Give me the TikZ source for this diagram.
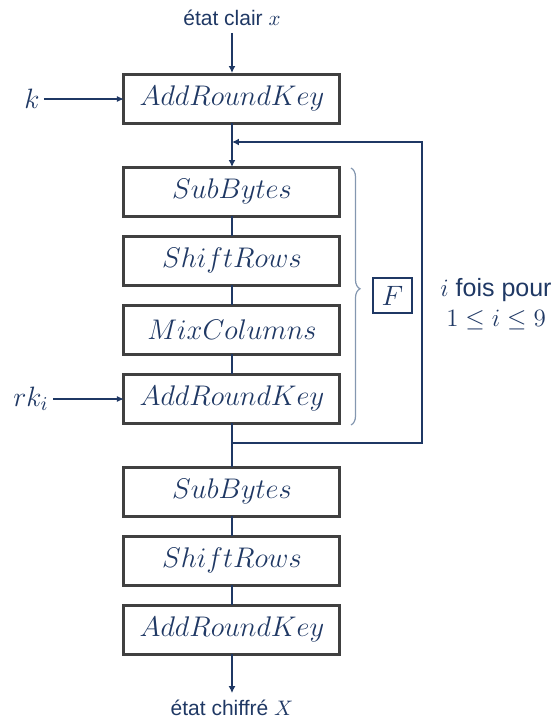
\RequirePackage{fix-cm}
\documentclass[tikz,border=0pt]{standalone}
\usepackage{amsmath, amssymb}
\usepackage{fontspec}
\setsansfont{Liberation Sans}
\usepackage{tikz}
\usetikzlibrary{arrows.meta}
\usetikzlibrary{positioning}
\usetikzlibrary{decorations.pathreplacing}
\definecolor{bleu}{RGB}{31,56,100}
\definecolor{gris}{RGB}{64,64,64}
\definecolor{accol}{RGB}{132,151,176}

\begin{document}
\begin{tikzpicture}[x=0.5pt,y=-0.5pt,node distance=10pt]
\tikzstyle{bloc}=[draw=gris,line width=1.5pt,minimum width=108pt,minimum height=24.5pt,inner sep=0pt,outer sep=0pt,text=bleu,font=\fontsize{14.2}{16}\selectfont]
\tikzstyle{lien}=[draw=bleu,line width=1pt]
\tikzstyle{fleche}=[lien,-{Latex[length=3.5pt,width=3.5pt]}]
\tikzstyle{cle}=[draw=bleu,line width=0.6pt,-{Latex[length=3.5pt,width=3pt]}]
\tikzstyle{texte}=[text=bleu,font=\sffamily\fontsize{10.5}{12}\selectfont]
\tikzstyle{var}=[text=bleu,font=\fontsize{14}{16}\selectfont,inner sep=2pt]
\useasboundingbox (0,0) rectangle (554,720);

% entree et cle
\node[texte] (clair) at (232,18) {état clair $x$};
\node[bloc] (ark0) at (232,98.5) {$AddRoundKey$};
\node[var] (k) at (32,99) {$k$};

% tour F
\node[bloc,below=22pt of ark0] (sb) {$SubBytes$};
\node[bloc,below=of sb] (sr) {$ShiftRows$};
\node[bloc,below=of sr] (mc) {$MixColumns$};
\node[bloc,below=of mc] (ark) {$AddRoundKey$};
\node[var] (rk) at (31,399) {$rk_i$};

% dernier tour
\node[bloc,below=22pt of ark] (sbf) {$SubBytes$};
\node[bloc,below=of sbf] (srf) {$ShiftRows$};
\node[bloc,below=of srf] (arkf) {$AddRoundKey$};
\node[texte] (chiffre) at (232,708) {état chiffré $X$};

\coordinate (entree) at (232,73);
\coordinate (retour) at (232,142);
\coordinate (depart) at (232,443);
\coordinate (coin) at (422,142);

\draw[fleche] (clair) -- (entree);
\draw[cle] (k) -- (k -| ark0.west);
\draw[cle] (rk) -- (rk -| ark.west);
\draw[fleche] (ark0) -- (sb);
\draw[lien] (sb) -- (sr);
\draw[lien] (sr) -- (mc);
\draw[lien] (mc) -- (ark);
\draw[lien] (ark) -- (sbf);
\draw[lien] (sbf) -- (srf);
\draw[lien] (srf) -- (arkf);
\draw[fleche] (arkf) -- (chiffre);
\draw[fleche] (depart) -| (coin) -- (retour);

% accolade
\draw[accol,line width=0.6pt,decorate,decoration={brace,amplitude=4.5pt,aspect=0.47}] (351,168) -- (351,425);
\node[draw=bleu,line width=0.8pt,minimum width=19.5pt,minimum height=17.5pt,inner sep=0pt,text=bleu,font=\fontsize{14}{16}\selectfont] (F) at (392.5,295.5) {$F$};
\node[text=bleu,align=center,font=\sffamily\fontsize{12.5}{15}\selectfont] (fois) at (496,304) {$i$ fois pour\\$1\leq i\leq 9$};
\end{tikzpicture}
\end{document}
